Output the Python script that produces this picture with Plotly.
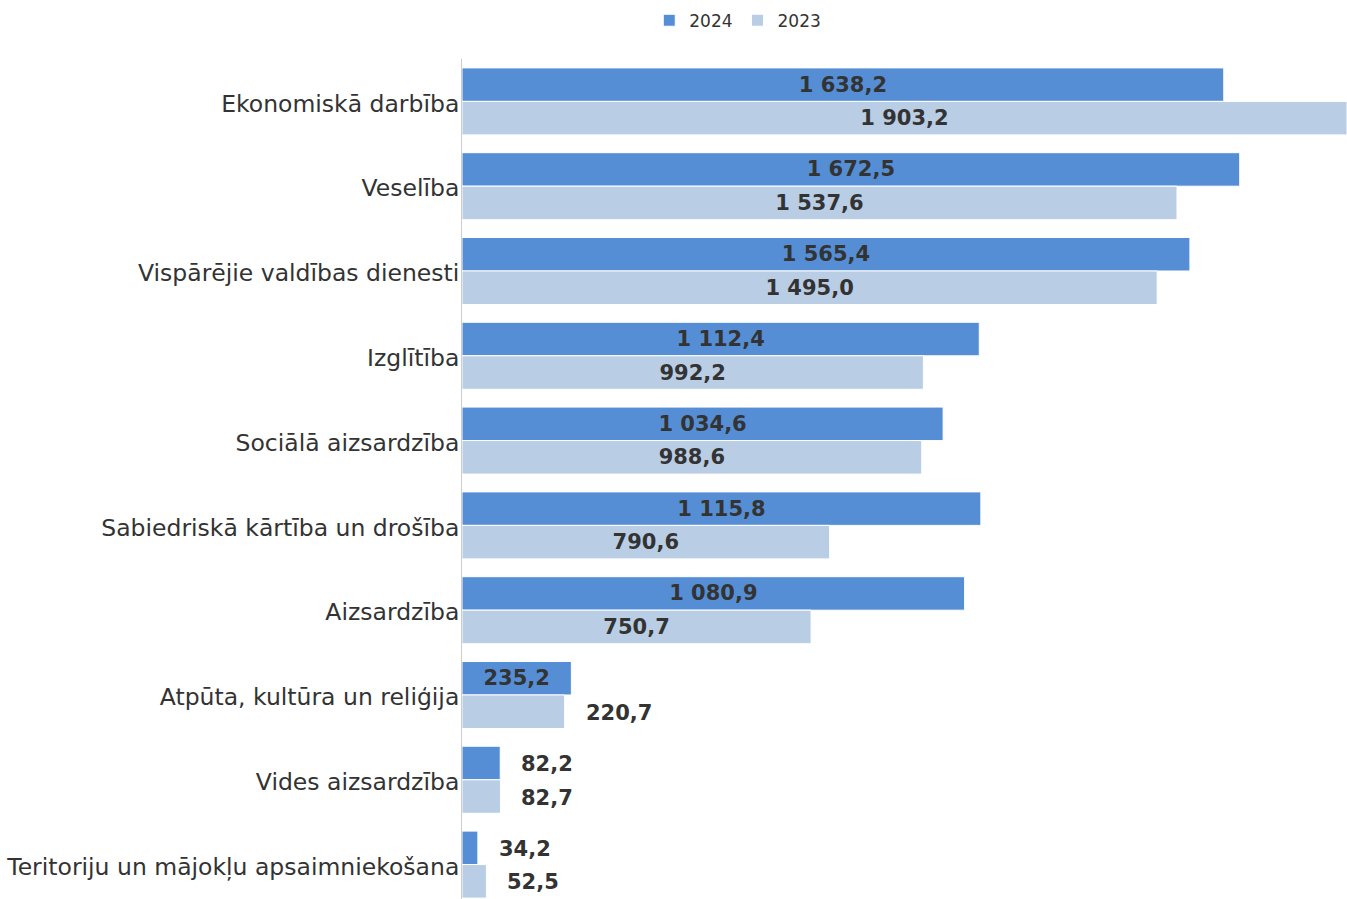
import plotly.graph_objects as go

# Budget expenditure by function (million EUR)
categories = [
    "Ekonomiskā darbība",
    "Veselība",
    "Vispārējie valdības dienesti",
    "Izglītība",
    "Sociālā aizsardzība",
    "Sabiedriskā kārtība un drošība",
    "Aizsardzība",
    "Atpūta, kultūra un reliģija",
    "Vides aizsardzība",
    "Teritoriju un mājokļu apsaimniekošana",
]
values_2024 = [1638.2, 1672.5, 1565.4, 1112.4, 1034.6, 1115.8, 1080.9, 235.2, 82.2, 34.2]
values_2023 = [1903.2, 1537.6, 1495.0, 992.2, 988.6, 790.6, 750.7, 220.7, 82.7, 52.5]

series = [
    ("2024", values_2024, "#558ED5"),
    ("2023", values_2023, "#B9CDE5"),
]

FONT = "DejaVu Sans"
TEXT_COLOR = "#333333"
INSIDE_MIN = 230  # smaller bars get their label placed to the right
BARGAP = 0.21


def fmt(v):
    s = f"{v:,.1f}"
    return s.replace(",", " ").replace(".", ",")


fig = go.Figure()
annotations = []
half = (1 - BARGAP) / 2
for k, (name, vals, color) in enumerate(series):
    inside_text = [fmt(v) if v >= INSIDE_MIN else "" for v in vals]
    fig.add_trace(go.Bar(
        name=name,
        y=categories,
        x=vals,
        orientation="h",
        marker=dict(color=color, line=dict(color="white", width=1)),
        text=inside_text,
        textposition="inside",
        insidetextanchor="middle",
        insidetextfont=dict(family=FONT, size=21, color=TEXT_COLOR, weight="bold"),
        hoverinfo="x+y",
    ))
    # offset of this series' bar centre within its category band
    off = -half / 2 if k == 0 else half / 2
    for i, v in enumerate(vals):
        if v < INSIDE_MIN:
            annotations.append(dict(
                x=v, y=i + off, xref="x", yref="y",
                text=fmt(v), showarrow=False,
                xanchor="left", yanchor="middle", xshift=19, yshift=-1,
                font=dict(family=FONT, size=21, color=TEXT_COLOR, weight="bold"),
            ))

fig.update_layout(
    width=1347,
    height=899,
    margin=dict(l=462, r=0, t=59, b=0),
    paper_bgcolor="white",
    plot_bgcolor="white",
    barmode="group",
    bargap=BARGAP,
    bargroupgap=0,
    font=dict(family=FONT, color=TEXT_COLOR),
    showlegend=True,
    legend=dict(
        orientation="h",
        xref="container", yref="container",
        x=0.482, xanchor="left",
        y=0.997, yanchor="top",
        font=dict(family=FONT, size=17, color=TEXT_COLOR),
        itemwidth=30,
        traceorder="normal",
    ),
    annotations=annotations,
    xaxis=dict(
        range=[0, 1903.2],
        showgrid=False,
        zeroline=False,
        showticklabels=False,
        showline=False,
        ticks="",
    ),
    yaxis=dict(
        type="category",
        categoryorder="array",
        categoryarray=categories,
        range=[9.406, -0.5],
        showgrid=False,
        zeroline=False,
        showline=True,
        linecolor="#CCCCCC",
        linewidth=1,
        ticks="",
        tickfont=dict(family=FONT, size=23.5, color=TEXT_COLOR),
        ticklabelstandoff=-3,
        ticklabelshift=-2,
    ),
)

fig.write_html("out.html")
